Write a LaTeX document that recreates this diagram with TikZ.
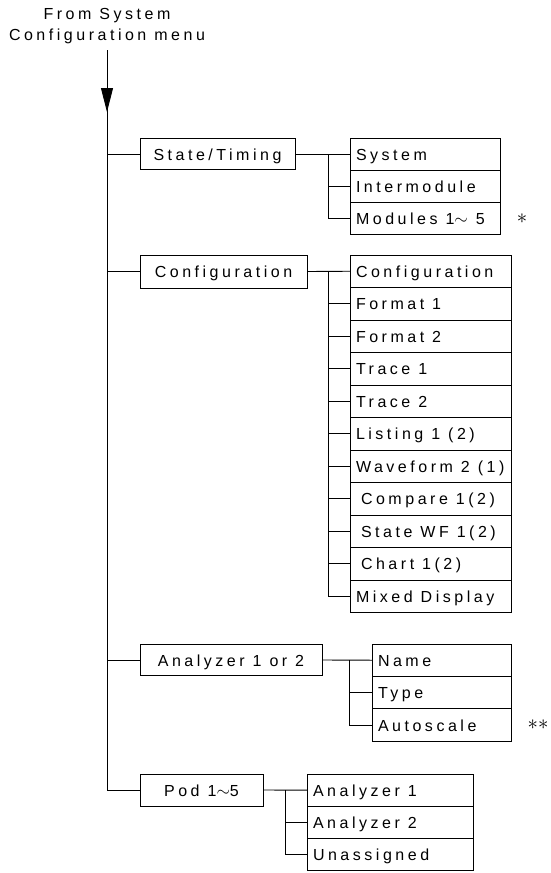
\documentclass[tikz,border=0pt]{standalone}
\usepackage{fontspec}
\setmainfont{Liberation Sans}[LetterSpace=22]
\usetikzlibrary{arrows.meta,decorations.markings}
\newcommand\ctext[2]{\makebox[#1][l]{#2}}
\begin{document}
\begin{tikzpicture}[x=1pt,y=-1pt,
  font=\fontsize{16}{19}\selectfont, line width=0.9pt,
  lbox/.style={draw, anchor=west, inner sep=0pt, outer sep=0pt, text height=14pt, text depth=2pt},
  cell/.style={draw, anchor=north west, inner xsep=6pt, inner ysep=0pt, outer sep=0pt, text height=14pt, text depth=2pt},
  ca/.style={cell, minimum height=32pt},
  cb/.style={cell, minimum height=32.5pt},
  cc/.style={cell, minimum height=32.4pt},
  cd/.style={cell, minimum height=32.3pt},
  head/.style={anchor=base},
  note/.style={anchor=center, inner sep=0pt, font=\fontsize{20}{20}\selectfont}]
\useasboundingbox (0,0) rectangle (551,873);

% header
\node[head] (h1) at (107,19) {From System};
\node[head] (h2) at (107,40) {Configuration menu};

% left boxes
\node[lbox, minimum width=155pt, minimum height=31pt] (st) at (140,154) {State/Timing};
\node[lbox, minimum width=167pt, minimum height=33pt] (cf) at (140,271.5) {Configuration};
\node[lbox, minimum width=182pt, minimum height=31pt] (an) at (140,660) {Analyzer 1 or 2};
\node[lbox, minimum width=123pt, minimum height=32pt] (pd) at (140,790) {Pod 1$\sim$5};

% group 1
\node[ca] (s1) at (350,138) {\ctext{138pt}{System}};
\node[ca] (s2) at (s1.south west) {\ctext{138pt}{Intermodule}};
\node[ca] (s3) at (s2.south west) {\ctext{138pt}{Modules 1$\sim$ 5}};
\node[note] (ast1) at (522,219) {${\ast}$};

% group 2
\node[cb] (g1) at (350,255) {\ctext{149pt}{Configuration}};
\node[cb] (g2) at (g1.south west) {\ctext{149pt}{Format 1}};
\node[cb] (g3) at (g2.south west) {\ctext{149pt}{Format 2}};
\node[cb] (g4) at (g3.south west) {\ctext{149pt}{Trace 1}};
\node[cb] (g5) at (g4.south west) {\ctext{149pt}{Trace 2}};
\node[cb] (g6) at (g5.south west) {\ctext{149pt}{Listing 1 (2)}};
\node[cb] (g7) at (g6.south west) {\ctext{149pt}{Waveform 2 (1)}};
\node[cb] (g8) at (g7.south west) {\ctext{149pt}{\hspace*{5pt}Compare 1(2)}};
\node[cb] (g9) at (g8.south west) {\ctext{149pt}{\hspace*{5pt}State WF 1(2)}};
\node[cb] (g10) at (g9.south west) {\ctext{149pt}{\hspace*{5pt}Chart 1(2)}};
\node[cb] (g11) at (g10.south west) {\ctext{149pt}{Mixed Display}};

% group 3
\node[cc] (n1) at (372,644) {\ctext{127pt}{Name}};
\node[cc] (n2) at (n1.south west) {\ctext{127pt}{Type}};
\node[cc] (n3) at (n2.south west) {\ctext{127pt}{Autoscale}};
\node[note] (ast2) at (538,725) {${\ast}{\ast}$};

% group 4
\node[cd] (u1) at (307,774) {\ctext{154pt}{Analyzer 1}};
\node[cd] (u2) at (u1.south west) {\ctext{154pt}{Analyzer 2}};
\node[cd] (u3) at (u2.south west) {\ctext{154pt}{Unassigned}};

% main line with arrow
\coordinate (top) at (107,50);
\draw[postaction={decorate}, decoration={markings,
  mark=at position 62pt with {\arrow{Triangle[length=24pt,width=12pt]}}}]
  (top) |- (pd.west);
\draw (top |- st.west) -- (st.west);
\draw (top |- cf.west) -- (cf.west);
\draw (top |- an.west) -- (an.west);

% branches
\coordinate (b1) at (328,0);
\coordinate (b2) at (328,0);
\coordinate (b3) at (349,0);
\coordinate (b4) at (285,0);

\draw (st.east) -- (s1.west);
\draw (b1 |- s1.west) |- (s3.west);
\draw (b1 |- s2.west) -- (s2.west);

\draw (cf.east) -- (g1.west);
\draw (b2 |- g1.west) |- (g11.west);
\foreach \i in {2,...,10} \draw (b2 |- g\i.west) -- (g\i.west);

\draw (an.east) -- (n1.west);
\draw (b3 |- n1.west) |- (n3.west);
\draw (b3 |- n2.west) -- (n2.west);

\draw (pd.east) -- (u1.west);
\draw (b4 |- u1.west) |- (u3.west);
\draw (b4 |- u2.west) -- (u2.west);
\end{tikzpicture}
\end{document}
